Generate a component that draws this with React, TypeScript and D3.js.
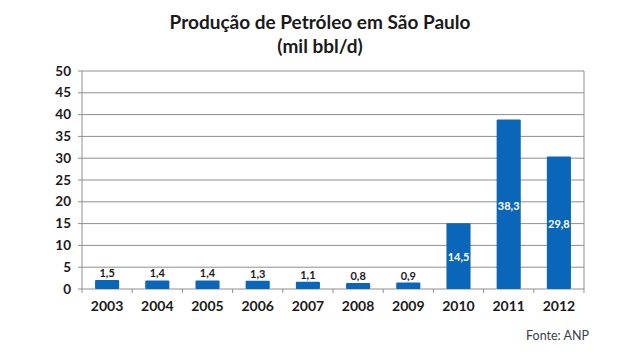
import React from "react";
import * as d3 from "d3";

const years = ["2003", "2004", "2005", "2006", "2007", "2008", "2009", "2010", "2011", "2012"];
const values = [1.5, 1.4, 1.4, 1.3, 1.1, 0.8, 0.9, 14.5, 38.3, 29.8];
const labels = ["1,5", "1,4", "1,4", "1,3", "1,1", "0,8", "0,9", "14,5", "38,3", "29,8"];
const yTicks = [0, 5, 10, 15, 20, 25, 30, 35, 40, 45, 50];
const titleLines = ["Produção de Petróleo em São Paulo", "(mil bbl/d)"];
const source = "Fonte: ANP";

const W = 640, H = 354;
const left = 82, right = 584, top = 71, bottom = 289;
const font = "Lato, 'Open Sans', sans-serif";
const barColor = "#0a66b9";
const gridColor = "#8f8f8f";
const textColor = "#1a1a1a";

export default function App() {
  const x = d3.scaleBand<string>().domain(years).range([left, right]).paddingInner(0.52).paddingOuter(0.26);
  const y = d3.scaleLinear().domain([0, 50]).range([bottom, top]);
  const boundaries = d3.range(years.length + 1).map((i) => left + (i * (right - left)) / years.length);
  return (
    <svg width={W} height={H} style={{ position: "absolute", left: 0, top: 0, background: "#fff" }}>
      <rect x={0} y={0} width={W} height={H} fill="#fff" />
      {titleLines.map((t, i) => (
        <text key={t} x={320} y={29 + i * 24} textAnchor="middle" fontFamily={font} fontWeight={700} fontSize={19} fill={textColor}>
          {t}
        </text>
      ))}
      {yTicks.map((t) => (
        <g key={t}>
          <line x1={left - 4} x2={right} y1={y(t)} y2={y(t)} stroke={gridColor} strokeWidth={1} />
          <text x={71} y={y(t) + 4.5} textAnchor="end" fontFamily={font} fontWeight={700} fontSize={13.5} fill={textColor}>
            {t}
          </text>
        </g>
      ))}
      <line x1={left} x2={left} y1={top} y2={bottom} stroke={gridColor} />
      <line x1={right} x2={right} y1={top} y2={bottom} stroke={gridColor} />
      {boundaries.map((b, i) => (
        <line key={i} x1={b} x2={b} y1={bottom} y2={bottom + 4} stroke={gridColor} />
      ))}
      {years.map((yr, i) => {
        const v = values[i];
        const bx = x(yr)!;
        const bw = x.bandwidth();
        const inside = v > 10;
        return (
          <g key={yr}>
            <rect x={bx} y={y(v) - 2.5} width={bw} height={bottom - y(v) + 2.5} fill={barColor} rx={1} />
            <text
              x={bx + bw / 2}
              y={inside ? (y(v) + bottom) / 2 + 4 : y(v) - 5.5}
              textAnchor="middle"
              fontFamily={font}
              fontWeight={700}
              fontSize={11}
              fill={inside ? "#fff" : textColor}
            >
              {labels[i]}
            </text>
            <text x={bx + bw / 2} y={bottom + 22} textAnchor="middle" fontFamily={font} fontWeight={700} fontSize={14} fill={textColor}>
              {yr}
            </text>
          </g>
        );
      })}
      <text x={589} y={340} textAnchor="end" fontFamily={font} fontSize={12.5} fill="#3a3f4a">
        {source}
      </text>
    </svg>
  );
}
